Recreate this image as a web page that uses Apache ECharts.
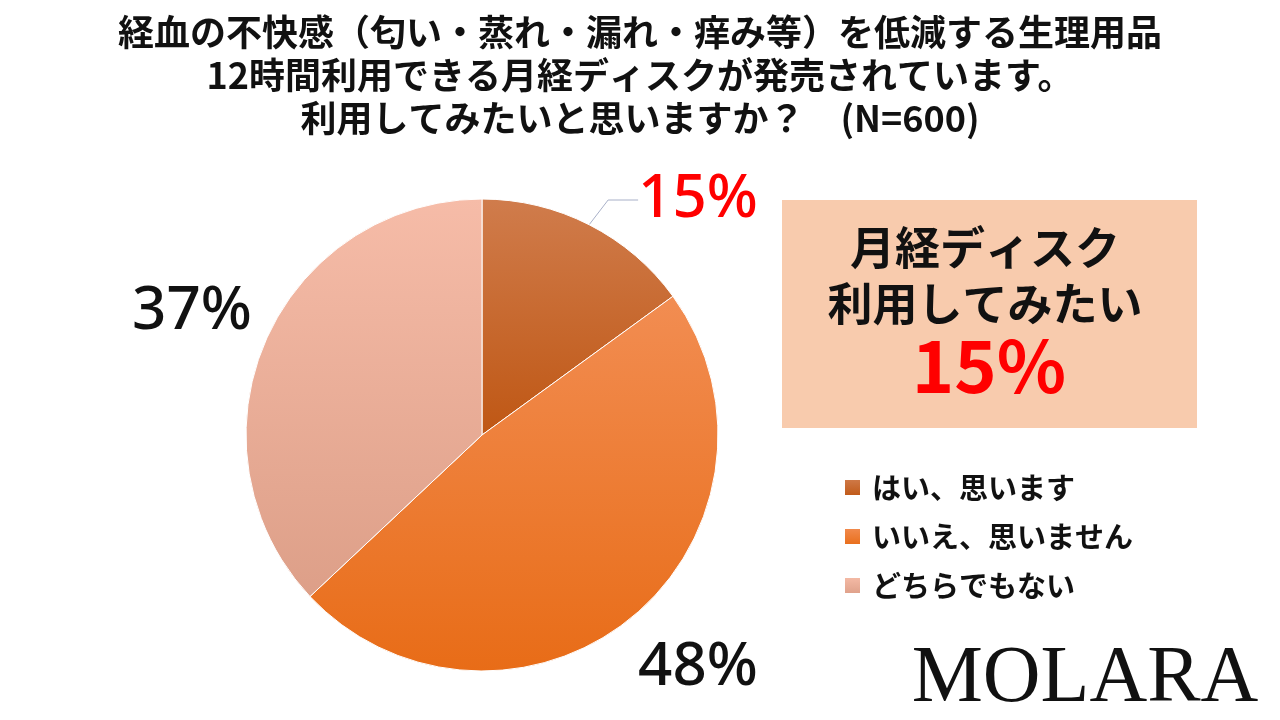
<!DOCTYPE html>
<html><head><meta charset="utf-8">
<script src="https://cdn.jsdelivr.net/npm/echarts@6/dist/echarts.min.js"></script>
<style>body{margin:0}#main{width:1280px;height:720px;background:#fff}</style>
</head><body><div id="main"></div>
<script>
var categories = ['はい、思います', 'いいえ、思いません', 'どちらでもない'];
var values = [15, 48, 37];
var topColors = ['#d07c4c', '#f28d52', '#f6bca8'];
var bottomColors = ['#bf5714', '#e86c17', '#dd9f88'];
var labelPos = [[698, 200], [698, 668], [192, 312]];

var font = '"Noto Sans CJK JP", sans-serif';
var chart = echarts.init(document.getElementById('main'));
chart.setOption({
  animation: false,
  title: {
    text: '経血の不快感（匂い・蒸れ・漏れ・痒み等）を低減する生理用品\n12時間利用できる月経ディスクが発売されています。\n利用してみたいと思いますか？　(N=600)',
    left: 'center', top: 6,
    textStyle: { fontFamily: font, fontSize: 36, fontWeight: 'bold', lineHeight: 43, color: '#111' }
  },
  legend: {
    orient: 'vertical', left: 838, top: 468, itemGap: 20,
    itemWidth: 17, itemHeight: 17, icon: 'rect',
    textStyle: { fontFamily: font, fontSize: 29, fontWeight: 'bold', color: '#111', padding: [0, 0, 0, 6] },
    data: categories
  },
  graphic: [
    { type: 'rect', shape: { x: 782, y: 200, width: 415, height: 228 }, style: { fill: '#f8cbad' } },
    { type: 'text', x: 985, y: 220, style: { text: '月経ディスク\n利用してみたい', fontFamily: font, fontSize: 45, fontWeight: 'bold', lineHeight: 56, fill: '#111', textAlign: 'center' } },
    { type: 'text', x: 989, y: 330, style: { text: '15%', fontFamily: font, fontSize: 72, fontWeight: 'bold', fill: '#ff0000', textAlign: 'center' } },
    { type: 'text', x: 1085, y: 680, style: { text: 'MOLARA', fontFamily: '"Liberation Serif", serif', fontSize: 80, fill: '#111', textAlign: 'center', textVerticalAlign: 'middle' } }
  ],
  series: [{
    type: 'pie', center: [482, 435], radius: 236, startAngle: 90, clockwise: true,
    data: categories.map(function (c, i) {
      return {
        name: c, value: values[i],
        itemStyle: { color: { type: 'linear', x: 0, y: 0, x2: 0, y2: 1, colorStops: [{ offset: 0, color: topColors[i] }, { offset: 1, color: bottomColors[i] }] } },
        label: { color: i === 0 ? '#ff0000' : '#111' },
        labelLine: { show: i === 0 }
      };
    }),
    itemStyle: { borderColor: '#fff', borderWidth: 1 },
    label: { formatter: '{c}%', fontFamily: '"Noto Sans", sans-serif', fontSize: 60, fontWeight: 500 },
    labelLine: { lineStyle: { color: '#a8b0c8', width: 1 } },
    labelLayout: function (p) {
      return { x: labelPos[p.dataIndex][0], y: labelPos[p.dataIndex][1], align: 'center', verticalAlign: 'middle' };
    }
  }]
});
</script></body></html>
